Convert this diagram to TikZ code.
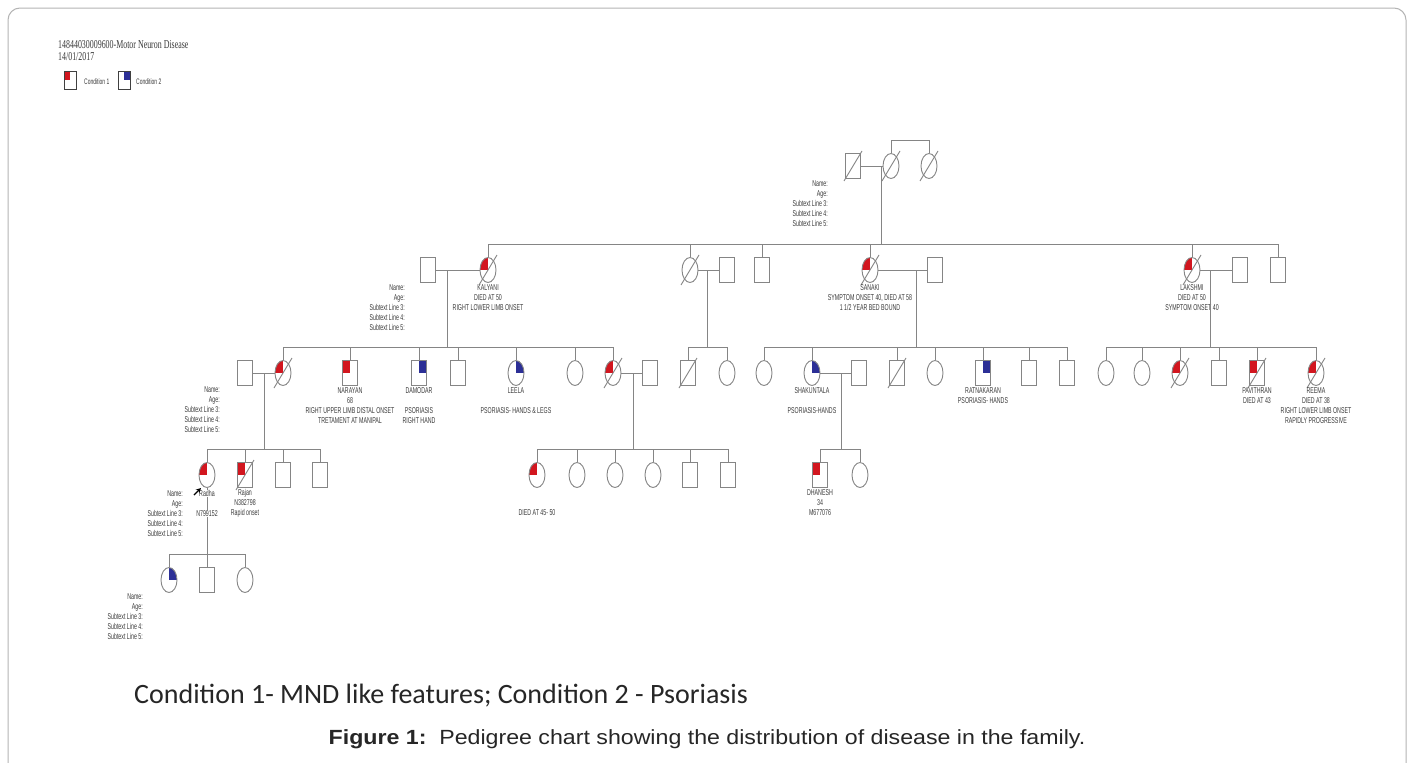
\documentclass[tikz,border=0pt]{standalone}
\usepackage{fontspec}
\setmainfont{Liberation Sans}
\newfontfamily\pedfont[FakeStretch=0.62]{Liberation Sans}
\newfontfamily\hdrfont[FakeStretch=0.66]{Liberation Serif}
\newfontfamily\condfont{Carlito}
\newfontfamily\capfont[FakeStretch=1.13]{Liberation Sans}
\usetikzlibrary{shapes.geometric,arrows.meta}
\definecolor{mndred}{HTML}{D2161F}
\definecolor{psoblue}{HTML}{2C2F96}
\definecolor{linec}{HTML}{858585}
\definecolor{txtc}{HTML}{3A3A3A}
\definecolor{framec}{HTML}{B4B4B4}
\newcommand\deceased[1]{\draw[conn] (#1.center) ++(-9,15) -- ++(18,-30);}
\tikzset{
  sym/.style={draw=linec, line width=0.9pt, inner sep=0pt, fill=white},
  male/.style={sym, rectangle, minimum width=15pt, minimum height=25pt},
  female/.style={sym, ellipse, minimum width=16pt, minimum height=25pt},
  mnd/.style={path picture={\fill[mndred] (path picture bounding box.north west) rectangle (path picture bounding box.center);}},
  pso/.style={path picture={\fill[psoblue] (path picture bounding box.north east) rectangle (path picture bounding box.center);}},
  conn/.style={draw=linec, line width=0.9pt},
  ptext/.style={font=\pedfont\fontsize{8.5}{10}\selectfont, text=txtc, align=center, inner sep=0pt},
  nblock/.style={font=\pedfont\fontsize{8.5}{10}\selectfont, text=txtc, align=right, inner sep=0pt, anchor=north east},
  below1/.style={anchor=north, yshift=-1.5pt},
}
\begin{document}
\begin{tikzpicture}[x=1pt,y=-1pt]
\useasboundingbox (0,0) rectangle (1414,763);
\fill[white] (0,0) rectangle (1414,763);
\draw[framec, line width=1pt] (8,763) -- (8,20) arc[start angle=180,end angle=270,radius=12] -- (1394,8) arc[start angle=270,end angle=360,radius=12] -- (1406,763);

% header and legend
\node[font=\hdrfont\fontsize{12}{13}\selectfont, text=txtc, anchor=west, inner sep=0pt] (hdr1) at (58,45) {14844030009600-Motor Neuron Disease};
\node[font=\hdrfont\fontsize{12}{13}\selectfont, text=txtc, anchor=west, inner sep=0pt] (hdr2) at (58,57) {14/01/2017};
\node[male, mnd, draw=black!75, minimum width=12pt, minimum height=18pt] (leg1) at (70,80) {};
\node[male, pso, draw=black!75, minimum width=12pt, minimum height=18pt] (leg2) at (124,80) {};
\node[font=\pedfont\fontsize{8}{9}\selectfont, text=txtc, anchor=west, inner sep=0pt] (legt1) at (84,82) {Condition 1};
\node[font=\pedfont\fontsize{8}{9}\selectfont, text=txtc, anchor=west, inner sep=0pt] (legt2) at (136,82) {Condition 2};

% ---------- generation 1
\node[male] (g1a) at (853,166) {};
\node[female] (g1b) at (891,166) {};
\node[female] (g1c) at (929,166) {};
\draw[conn] (g1a.east) -- (g1b.west);
\draw[conn] (g1b.north) -- ++(0,-13) -| (g1c.north);
\deceased{g1a}\deceased{g1b}\deceased{g1c}
\coordinate (d1) at (881,166);
\node[nblock] (nb1) at (828,180) {Name:\\Age:\\Subtext Line 3:\\Subtext Line 4:\\Subtext Line 5:};

% ---------- generation 2
\node[male] (kalh) at (428,270) {};
\node[female, mnd] (kal) at (488,270) {};
\node[female] (mid) at (690,270) {};
\node[male] (midh) at (727,270) {};
\node[male] (g2s) at (762,270) {};
\node[female, mnd] (san) at (870,270) {};
\node[male] (sanh) at (935,270) {};
\node[female, mnd] (lak) at (1192,270) {};
\node[male] (lakh) at (1240,270) {};
\node[male] (g2t) at (1278,270) {};
\draw[conn] (kal.north) -- ++(0,-12.5) coordinate (s2) -| (g2t.north);
\foreach \n in {mid,g2s,san,lak} \draw[conn] (\n.north) -- ++(0,-12.5);
\draw[conn] (d1) -- (d1 |- s2);
\draw[conn] (kalh.east) -- (kal.west);
\draw[conn] (mid.east) -- (midh.west);
\draw[conn] (san.east) -- (sanh.west);
\draw[conn] (lak.east) -- (lakh.west);
\deceased{kal}\deceased{mid}\deceased{san}\deceased{lak}
\coordinate (dk) at (447,270);
\coordinate (dm) at (707,270);
\coordinate (ds) at (916,270);
\coordinate (dl) at (1210,270);
\node[nblock] (nb2) at (405,284) {Name:\\Age:\\Subtext Line 3:\\Subtext Line 4:\\Subtext Line 5:};
\node[ptext, below1] (kalt) at (kal.south) {KALYANI\\DIED AT 50\\RIGHT LOWER LIMB ONSET};
\node[ptext, below1] (sant) at (san.south) {SANAKI\\SYMPTOM ONSET 40, DIED AT 58\\1 1/2 YEAR BED BOUND};
\node[ptext, below1] (lakt) at (lak.south) {LAKSHMI\\DIED AT 50\\SYMPTOM ONSET 40};

% ---------- generation 3
\node[male] (c3ah) at (245,373) {};
\node[female, mnd] (c3a) at (283,373) {};
\node[male, mnd] (nar) at (350,373) {};
\node[male, pso] (dam) at (419,373) {};
\node[male] (c3d) at (458,373) {};
\node[female, pso] (lee) at (516,373) {};
\node[female] (c3f) at (575,373) {};
\node[female, mnd] (c3g) at (613,373) {};
\node[male] (c3gh) at (650,373) {};
\node[male] (m1) at (688,373) {};
\node[female] (m2) at (727,373) {};
\node[female] (s1) at (764,373) {};
\node[female, pso] (shak) at (812,373) {};
\node[male] (shakh) at (859,373) {};
\node[male] (s3) at (897,373) {};
\node[female] (s4) at (935,373) {};
\node[male, pso] (rat) at (983,373) {};
\node[male] (s6) at (1029,373) {};
\node[male] (s7) at (1067,373) {};
\node[female] (l1) at (1106,373) {};
\node[female] (l2) at (1142,373) {};
\node[female, mnd] (l3) at (1180,373) {};
\node[male] (l4) at (1219,373) {};
\node[male, mnd] (pav) at (1257,373) {};
\node[female, mnd] (ree) at (1316,373) {};
% sibships
\draw[conn] (c3a.north) -- ++(0,-12.5) coordinate (s3k) -| (c3g.north);
\foreach \n in {nar,dam,c3d,lee,c3f} \draw[conn] (\n.north) -- ++(0,-12.5);
\draw[conn] (dk) -- (dk |- s3k);
\draw[conn] (m1.north) -- ++(0,-12.5) coordinate (s3m) -| (m2.north);
\draw[conn] (dm) -- (dm |- s3m);
\draw[conn] (s1.north) -- ++(0,-12.5) coordinate (s3s) -| (s7.north);
\foreach \n in {shak,s3,s4,rat,s6} \draw[conn] (\n.north) -- ++(0,-12.5);
\draw[conn] (ds) -- (ds |- s3s);
\draw[conn] (l1.north) -- ++(0,-12.5) coordinate (s3l) -| (ree.north);
\foreach \n in {l2,l3,l4,pav} \draw[conn] (\n.north) -- ++(0,-12.5);
\draw[conn] (dl) -- (dl |- s3l);
% marriages
\draw[conn] (c3ah.east) -- (c3a.west);
\draw[conn] (c3g.east) -- (c3gh.west);
\draw[conn] (shak.east) -- (shakh.west);
\deceased{c3a}\deceased{c3g}\deceased{m1}\deceased{s3}\deceased{l3}\deceased{pav}\deceased{ree}
\coordinate (dr) at (264,373);
\coordinate (dg) at (633,373);
\coordinate (dsh) at (841,373);
\node[nblock] (nb3) at (220,386) {Name:\\Age:\\Subtext Line 3:\\Subtext Line 4:\\Subtext Line 5:};
\node[ptext, below1] (nart) at (nar.south) {NARAYAN\\68\\RIGHT UPPER LIMB DISTAL ONSET\\TRETAMENT AT MANIPAL};
\node[ptext, below1] (damt) at (dam.south) {DAMODAR\\\mbox{}\\PSORIASIS\\RIGHT HAND};
\node[ptext, below1] (leet) at (lee.south) {LEELA\\\mbox{}\\PSORIASIS- HANDS \& LEGS};
\node[ptext, below1] (shakt) at (shak.south) {SHAKUNTALA\\\mbox{}\\PSORIASIS-HANDS};
\node[ptext, below1] (ratt) at (rat.south) {RATNAKARAN\\PSORIASIS- HANDS};
\node[ptext, below1] (pavt) at (pav.south) {PAVITHRAN\\DIED AT 43};
\node[ptext, below1] (reet) at (ree.south) {REEMA\\DIED AT 38\\RIGHT LOWER LIMB ONSET\\RAPIDLY PROGRESSIVE};

% ---------- generation 4
\node[female, mnd] (rad) at (207,475) {};
\node[male, mnd] (raj) at (245,475) {};
\node[male] (r3) at (283,475) {};
\node[male] (r4) at (320,475) {};
\node[female, mnd] (g4a) at (537,475) {};
\node[female] (g4b) at (577,475) {};
\node[female] (g4c) at (615,475) {};
\node[female] (g4d) at (653,475) {};
\node[male] (g4e) at (690,475) {};
\node[male] (g4f) at (728,475) {};
\node[male, mnd] (dha) at (820,475) {};
\node[female] (dh2) at (860,475) {};
\draw[conn] (rad.north) -- ++(0,-12.5) coordinate (s4r) -| (r4.north);
\foreach \n in {raj,r3} \draw[conn] (\n.north) -- ++(0,-12.5);
\draw[conn] (dr) -- (dr |- s4r);
\draw[conn] (g4a.north) -- ++(0,-12.5) coordinate (s4g) -| (g4f.north);
\foreach \n in {g4b,g4c,g4d,g4e} \draw[conn] (\n.north) -- ++(0,-12.5);
\draw[conn] (dg) -- (dg |- s4g);
\draw[conn] (dha.north) -- ++(0,-12.5) coordinate (s4d) -| (dh2.north);
\draw[conn] (dsh) -- (dsh |- s4d);
\deceased{raj}
\node[nblock] (nb4) at (183,490) {Name:\\Age:\\Subtext Line 3:\\Subtext Line 4:\\Subtext Line 5:};

% ---------- generation 5
\node[female, pso] (g5a) at (169,580) {};
\node[male] (g5b) at (207,580) {};
\node[female] (g5c) at (245,580) {};
\draw[conn] (g5a.north) -- ++(0,-12.5) coordinate (s5) -| (g5c.north);
\draw[conn] (rad.south) -- (rad.south |- s5);
\draw[conn] (g5b.north) -- ++(0,-12.5);
\node[nblock] (nb5) at (143,593) {Name:\\Age:\\Subtext Line 3:\\Subtext Line 4:\\Subtext Line 5:};

% gen 4 texts (over the descent line)
\node[ptext, fill=white, inner sep=0.6pt, anchor=north] (radt1) at ([yshift=-1.5pt]rad.south) {Radha};
\node[ptext, fill=white, inner sep=0.6pt, anchor=north] (radt2) at ([yshift=-21.5pt]rad.south) {N799152};
\node[ptext, below1] (rajt) at (raj.south) {Rajan\\N382798\\Rapid onset};
\node[ptext, anchor=north, yshift=-21.5pt] (g4at) at (g4a.south) {DIED AT 45- 50};
\node[ptext, below1] (dhat) at (dha.south) {DHANESH\\34\\M677076};
\coordinate (pbt) at (194,495);
\coordinate (pbh) at (201,488);
\draw[black, line width=1.3pt, -{Stealth[length=5pt,width=5pt]}] (pbt) -- (pbh);

% bottom texts
\node[font=\condfont\fontsize{28}{30}\selectfont, text=black!85, anchor=base west, inner sep=0pt] (cond) at (134,703) {Condition 1- MND like features; Condition 2 - Psoriasis};
\node[font=\capfont\fontsize{20.5}{22}\selectfont, text=black!85, anchor=base, inner sep=0pt] (cap) at (707,744) {\textbf{Figure 1:}\ \ Pedigree chart showing the distribution of disease in the family.};
\end{tikzpicture}
\end{document}
